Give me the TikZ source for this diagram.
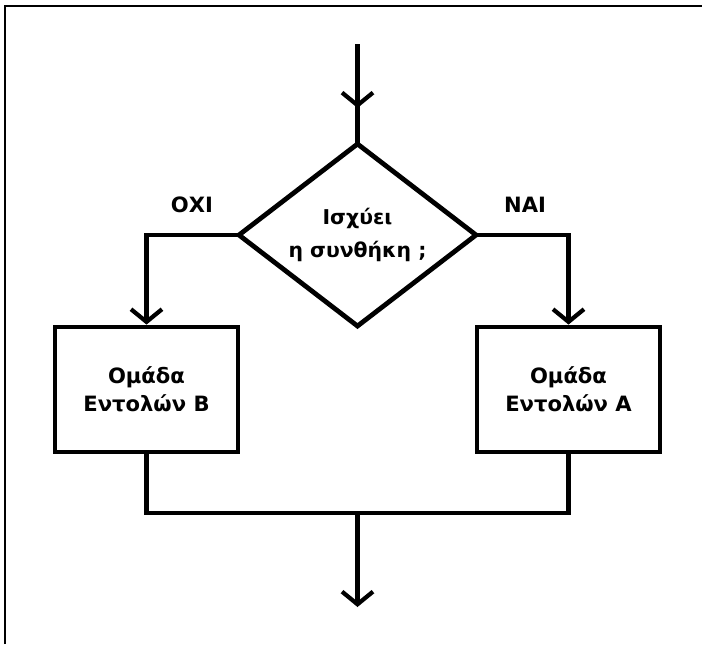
\documentclass[tikz,border=0pt]{standalone}
\usepackage{fontspec}
\setmainfont{DejaVu Sans}
\usetikzlibrary{arrows.meta,shapes.geometric}

\begin{document}
\begin{tikzpicture}[
    x=.025cm,y=-.025cm,
    line/.style={line width=3.4pt,line join=miter,line cap=rect},
    flow/.style={line,-{Straight Barb[length=9pt,width=22pt,line width=3pt]}},
    block/.style={draw,line width=3.4pt,minimum width=4.575cm,minimum height=3.125cm,
                  inner sep=0pt,align=center,font=\bfseries\fontsize{15}{20}\selectfont},
    decision/.style={draw,diamond,aspect=1.3,line width=3.4pt,minimum width=5.975cm,minimum height=4.6cm,
                  inner sep=0pt,align=center,font=\bfseries\fontsize{14.5}{22}\selectfont},
    answer/.style={font=\bfseries\fontsize{15}{16}\selectfont}
  ]
    \useasboundingbox (0,0) rectangle (702,644);
    \draw[line width=1.8pt] (5,644) -- (5,6) -- (702,6);

    \node[decision] (cond) at (357.5,235) {\raisebox{4pt}{Ισχύει}\\[-2pt]η συνθήκη ;};
    \node[block] (grpB) at (146.5,389.5) {Ομάδα\\Εντολών Β};
    \node[block] (grpA) at (568.5,389.5) {Ομάδα\\Εντολών Α};
    \node[answer] (no)  at (192,205) {ΟΧΙ};
    \node[answer] (yes) at (525,205) {ΝΑΙ};

    \coordinate (in) at (357.5,46);
    \coordinate (inTip) at (357.5,108);
    \coordinate (join) at (357.5,513);
    \coordinate (out) at (357.5,607);

    \draw[line] (in) -- (cond.north);
    \draw[flow] (in) -- (inTip);
    \draw[flow] (cond.west) -| (grpB.north);
    \draw[flow] (cond.east) -| (grpA.north);
    \draw[line] (grpB.south) |- (join) -| (grpA.south);
    \draw[flow] (join) -- (out);
  \end{tikzpicture}
\end{document}
